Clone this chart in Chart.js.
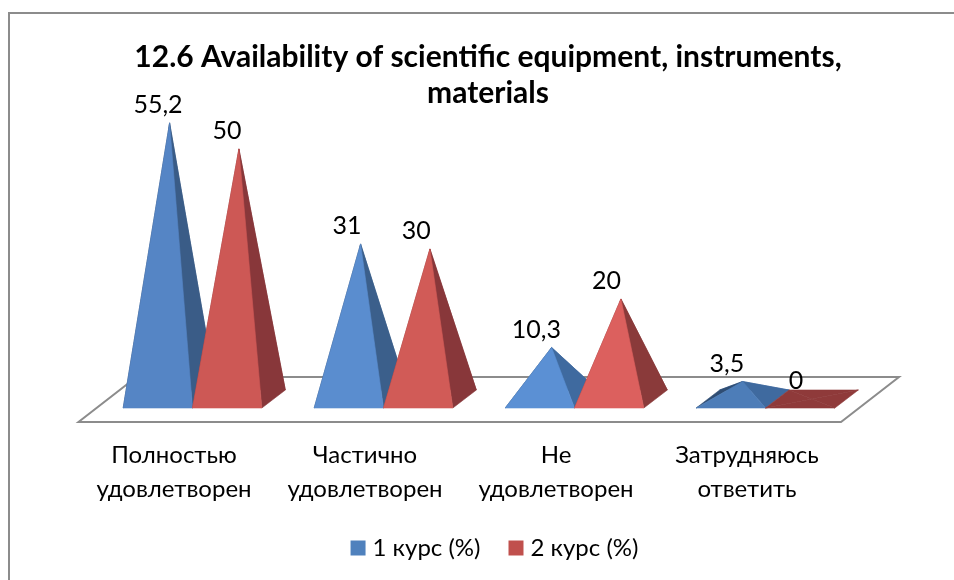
<!DOCTYPE html>
<html>
<head>
<meta charset="utf-8">
<script src="https://cdn.jsdelivr.net/npm/chart.js@4"></script>
<style>
html,body{margin:0;padding:0;background:#fff;overflow:hidden}
#wrap{position:relative;width:954px;height:580px;overflow:hidden}
#frame{position:absolute;left:8px;top:12px;width:1000px;height:700px;border:2px solid #8c8c8c;box-sizing:border-box;pointer-events:none}
canvas{position:absolute;left:0;top:0}
</style>
</head>
<body>
<div id="wrap"><canvas id="c" width="954" height="580"></canvas><div id="frame"></div></div>
<script>
const titleLines = ["12.6 Availability of scientific equipment, instruments,", "materials"];
const categories = [["Полностью","удовлетворен"],["Частично","удовлетворен"],["Не","удовлетворен"],["Затрудняюсь","ответить"]];
const course1 = [55.2, 31, 10.3, 3.5];
const course2 = [50, 30, 20, 0];
const seriesNames = ["1 курс (%)", "2 курс (%)"];
const legendColors = ["#4f81bd", "#c0504d"];
const frontColors = [["#5585c5","#5a8dcf","#5b90d4","#4d7db8"],["#cd5855","#d15b57","#dc605e","#8f3a3a"]];
const sideColors = [["#3a5c87","#3b5f8b","#3f6a9f","#3f6a9f"],["#88373a","#88373a","#8a3a3a","#8f3a3a"]];
const leftColors = ["#2f4d73","#8f3a3a"];
const DEPTH_X = 23.5, DEPTH_Y = 18;
const FONT = "Lato, 'Noto Sans', sans-serif";

function poly(ctx, pts, color){
  ctx.fillStyle = color;
  ctx.strokeStyle = color;
  ctx.lineWidth = 0.6;
  ctx.lineJoin = "round";
  ctx.beginPath();
  pts.forEach((p,i)=> i ? ctx.lineTo(p[0],p[1]) : ctx.moveTo(p[0],p[1]));
  ctx.closePath();
  ctx.fill();
  ctx.stroke();
}

const pyramidPlugin = {
  id: "pyramid",
  afterLayout(chart){
    if (chart.titleBlock){ chart.titleBlock.left += 9; chart.titleBlock.right += 9; }
    if (chart.legend){ chart.legend.left += 18; chart.legend.right += 18; }
  },
  beforeDatasetsDraw(chart){
    const {ctx, chartArea:a} = chart;
    const y0 = chart.scales.y.getPixelForValue(0);
    const fy = y0 + 23, by = y0 - 22;
    const fl = a.left - 18.5, fr = a.right - 20;
    ctx.save();
    ctx.strokeStyle = "#8c8c8c";
    ctx.lineWidth = 2;
    ctx.lineJoin = "miter";
    ctx.beginPath();
    ctx.moveTo(fl,fy); ctx.lineTo(fr,fy); ctx.lineTo(fr+58,by); ctx.lineTo(fl+58,by);
    ctx.closePath();
    ctx.stroke();
    ctx.restore();
  },
  beforeDatasetDraw(){ return false; },
  afterDatasetsDraw(chart){
    const ctx = chart.ctx;
    const y0 = chart.scales.y.getPixelForValue(0);
    ctx.save();
    chart.data.labels.forEach((_, i)=>{
      chart.data.datasets.forEach((ds, d)=>{
        const bar = chart.getDatasetMeta(d).data[i];
        const l = bar.x - bar.width/2, r = bar.x + bar.width/2;
        const fy = y0 + DEPTH_Y/2, by = y0 - DEPTH_Y/2;
        const apex = [bar.x + DEPTH_X/2, bar.y];
        const FL=[l,fy], FR=[r,fy], BR=[r+DEPTH_X,by], BL=[l+DEPTH_X,by];
        poly(ctx,[BL,BR,apex],sideColors[d][i]);
        poly(ctx,[FL,BL,apex],leftColors[d]);
        poly(ctx,[FR,BR,apex],sideColors[d][i]);
        poly(ctx,[FL,FR,apex],frontColors[d][i]);
      });
    });
    ctx.fillStyle = "#000";
    ctx.font = "25px " + FONT;
    ctx.textAlign = "center";
    ctx.textBaseline = "middle";
    chart.data.datasets.forEach((ds, d)=>{
      ds.data.forEach((v, i)=>{
        const bar = chart.getDatasetMeta(d).data[i];
        const tx = bar.x + DEPTH_X/2 - (16 - v*0.08);
        ctx.fillText(String(v).replace(".",","), tx, bar.y - 18);
      });
    });
    ctx.restore();
  }
};

new Chart(document.getElementById("c"), {
  type: "bar",
  plugins: [pyramidPlugin],
  data: {
    labels: categories,
    datasets: [
      {label: seriesNames[0], data: course1, backgroundColor: legendColors[0]},
      {label: seriesNames[1], data: course2, backgroundColor: legendColors[1]}
    ]
  },
  options: {
    responsive: false,
    animation: false,
    layout: {padding: {left: 97, right: 93, top: 0, bottom: 10}},
    datasets: {bar: {categoryPercentage: 0.726, barPercentage: 1}},
    plugins: {
      tooltip: {enabled: false},
      title: {
        display: true,
        text: titleLines,
        color: "#000",
        font: {family: FONT, size: 30, weight: "bold", lineHeight: 1.19},
        padding: {top: 39.5, bottom: 0}
      },
      legend: {
        position: "bottom",
        labels: {color: "#000", font: {family: FONT, size: 24}, usePointStyle: true, pointStyle: "rect", boxWidth: 5, boxHeight: 15, padding: 33}
      }
    },
    scales: {
      x: {
        grid: {display: false, drawTicks: false},
        border: {display: false},
        afterFit(s){ s.height = 104; },
        ticks: {color: "#000", font: {family: FONT, size: 24, lineHeight: 1.417}, padding: 39, labelOffset: -18.5, autoSkip: false, maxRotation: 0, minRotation: 0}
      },
      y: {display: false, min: 0, max: 57.6, grid: {display: false}}
    }
  }
});
</script>
</body>
</html>
